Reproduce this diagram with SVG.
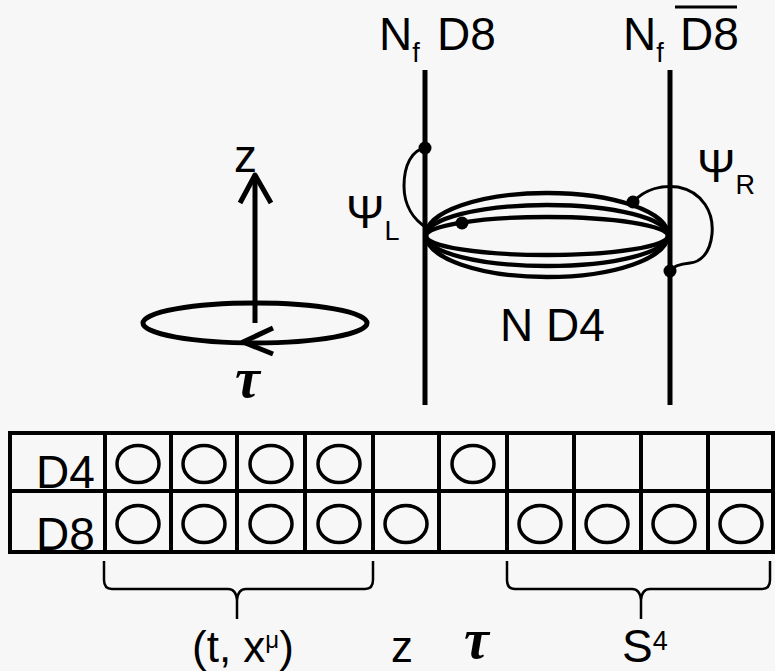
<svg xmlns="http://www.w3.org/2000/svg" width="775" height="671" viewBox="0 0 775 671">
<style>
text{font-family:"Liberation Sans",Arial,sans-serif;fill:#000}
.big{font-size:46px}
.mid{font-size:44px}
.sub{font-size:27px}
.tau{font-family:"Liberation Serif","DejaVu Serif",serif;font-style:italic;font-weight:bold;font-size:56px}
.brane{stroke:#000;stroke-width:5;fill:none;stroke-linecap:butt}
.loop{stroke:#000;stroke-width:4.3;fill:none}
.thin{stroke:#000;stroke-width:3;fill:none;stroke-linecap:round}
.cell{stroke:#000;stroke-width:4;fill:none}
.o{stroke:#000;stroke-width:3.5;fill:none}
.brace{stroke:#000;stroke-width:2.5;fill:none}
.dot{fill:#000}
</style>
<rect width="775" height="671" fill="#f7f7f7"/>

<g id="axes">
  <line x1="255" y1="323" x2="255" y2="175" class="brane"/>
  <polyline points="240,203 255,175 271,203" class="brane" stroke-linecap="round" stroke-linejoin="round"/>
  <ellipse cx="255" cy="323" rx="112" ry="20" class="brane"/>
  <polyline points="273,328 243,342 273,354" class="brane" stroke-linejoin="round"/>
  <text class="big" x="234" y="172">z</text>
  <text class="tau" x="235" y="397">τ</text>
</g>

<g id="d8-left">
  <line x1="425" y1="70" x2="425" y2="405" class="brane"/>
  <text class="big" x="379" y="50">N<tspan class="sub" dy="12">f</tspan><tspan dy="-12" x="437">D8</tspan></text>
</g>

<g id="d8-right">
  <line x1="670" y1="70" x2="670" y2="405" class="brane"/>
  <text class="big" x="623" y="50">N<tspan class="sub" dy="12">f</tspan><tspan dy="-12" x="680">D8</tspan></text>
  <line x1="675" y1="7" x2="737" y2="7" stroke="#000" stroke-width="3"/>
</g>

<g id="d4-loops">
  <ellipse cx="547" cy="235" rx="121" ry="42" class="loop"/>
  <ellipse cx="547" cy="235.5" rx="121" ry="30.5" class="loop"/>
  <ellipse cx="547" cy="236" rx="121" ry="19" class="loop"/>
  <text class="big" x="500" y="341">N D4</text>
</g>

<g id="psi-L">
  <path d="M425,148 C412,150 404,165 404,186 C404,206 414,220 427,228" class="thin"/>
  <circle cx="425" cy="148" r="6.5" class="dot"/>
  <circle cx="462" cy="223" r="6.5" class="dot"/>
  <text class="big" x="346" y="228">Ψ<tspan class="sub" dy="12">L</tspan></text>
</g>

<g id="psi-R">
  <path d="M633,202 C645,189 662,185 678,187 C703,192 714,213 712,234 C710,254 700,262 690,263 C680,264 673,266 670,271" class="thin"/>
  <circle cx="633" cy="202" r="6.5" class="dot"/>
  <circle cx="670" cy="271" r="6.5" class="dot"/>
  <text class="big" x="697" y="182">Ψ<tspan class="sub" dy="12">R</tspan></text>
</g>

<g id="table">
  <rect x="10" y="433" width="763" height="119" class="cell"/>
  <line x1="10" y1="491" x2="773" y2="491" class="cell"/>
  <g class="cell">
    <line x1="105" y1="433" x2="105" y2="552"/>
    <line x1="171" y1="433" x2="171" y2="552"/>
    <line x1="237" y1="433" x2="237" y2="552"/>
    <line x1="305" y1="433" x2="305" y2="552"/>
    <line x1="373" y1="433" x2="373" y2="552"/>
    <line x1="439" y1="433" x2="439" y2="552"/>
    <line x1="507" y1="433" x2="507" y2="552"/>
    <line x1="574" y1="433" x2="574" y2="552"/>
    <line x1="641" y1="433" x2="641" y2="552"/>
    <line x1="708" y1="433" x2="708" y2="552"/>
  </g>
  <text class="big" x="36" y="488">D4</text>
  <text class="big" x="36" y="550">D8</text>
  <g class="o">
    <ellipse cx="138" cy="464" rx="21" ry="18.5"/>
    <ellipse cx="204" cy="464" rx="21" ry="18.5"/>
    <ellipse cx="271" cy="464" rx="21" ry="18.5"/>
    <ellipse cx="339" cy="464" rx="21" ry="18.5"/>
    <ellipse cx="473" cy="464" rx="21" ry="18.5"/>
    <ellipse cx="138" cy="524" rx="21" ry="18.5"/>
    <ellipse cx="204" cy="524" rx="21" ry="18.5"/>
    <ellipse cx="271" cy="524" rx="21" ry="18.5"/>
    <ellipse cx="339" cy="524" rx="21" ry="18.5"/>
    <ellipse cx="406" cy="524" rx="21" ry="18.5"/>
    <ellipse cx="540" cy="524" rx="21" ry="18.5"/>
    <ellipse cx="607" cy="524" rx="21" ry="18.5"/>
    <ellipse cx="674" cy="524" rx="21" ry="18.5"/>
    <ellipse cx="741" cy="524" rx="21" ry="18.5"/>
  </g>
</g>

<g id="labels">
  <path d="M104,561 L104,580 Q104,589 112,589 L228,589 Q236,589 237,600 L237,619 M237,600 Q238,589 246,589 L365,589 Q373,589 373,580 L373,561" class="brace"/>
  <path d="M507,561 L507,580 Q507,589 515,589 L632,589 Q640,589 641,600 L641,619 M641,600 Q642,589 650,589 L762,589 Q770,589 770,580 L770,561" class="brace"/>
  <text class="mid" x="192" y="662">(t, x<tspan font-size="24" dy="-14">μ</tspan><tspan dy="14">)</tspan></text>
  <text class="mid" x="391" y="662">z</text>
  <text class="tau" x="464" y="658">τ</text>
  <text class="big" x="622" y="662">S<tspan class="sub" dy="-12">4</tspan></text>
</g>
</svg>
